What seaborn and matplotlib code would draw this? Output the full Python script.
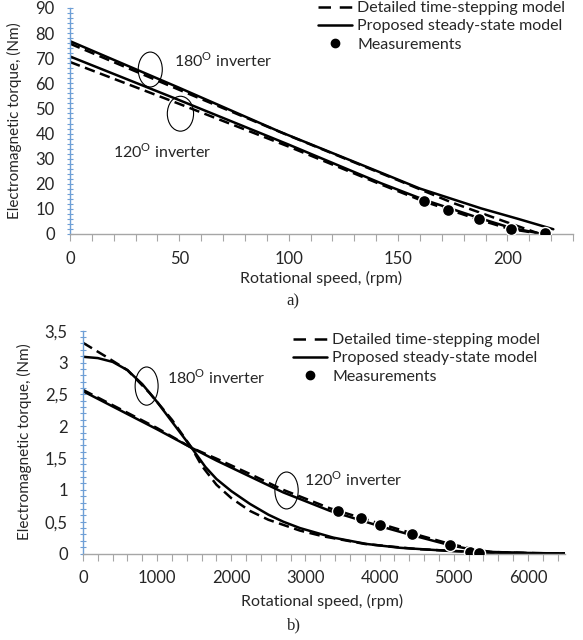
import numpy as np
import pandas as pd
import matplotlib
matplotlib.use("Agg")
import matplotlib.pyplot as plt
import seaborn as sns
from matplotlib.lines import Line2D
from matplotlib.patches import Ellipse
from matplotlib.ticker import MultipleLocator, FuncFormatter

# ---------------- data: a) low speed machine ----------------
a_180_solid_x = [0, 50, 96, 115, 140, 160, 188, 205, 221]
a_180_solid_y = [76.8, 58.2, 40.7, 34.0, 25.2, 18.1, 10.2, 6.0, 1.9]
a_180_dash_x = [0, 25, 50, 75, 100, 125, 150, 175, 200, 215]
a_180_dash_y = [75.8, 66.6, 57.4, 48.3, 39.2, 30.3, 21.4, 12.4, 4.6, 0.0]
a_120_solid_x = [0, 50, 100, 142, 162, 187, 201, 216]
a_120_solid_y = [70.7, 53.3, 35.6, 20.3, 13.6, 6.4, 2.6, 0.0]
a_120_dash_x = [0, 50, 100, 142, 162, 187, 201, 216]
a_120_dash_y = [68.5, 51.8, 34.8, 19.8, 12.9, 5.7, 2.0, 0.0]
a_meas_x = [161.8, 172.8, 186.8, 201.8, 217.1]
a_meas_y = [13.2, 9.5, 5.8, 2.0, 0.3]

# ---------------- data: b) high speed machine ----------------
b_180_solid_x = [0, 200, 400, 600, 800, 1000, 1200, 1465, 1650, 1800, 2000, 2250, 2500, 2700, 2925,
                 3373, 3823, 4272, 4946, 5500, 6000, 6500]
b_180_solid_y = [3.09, 3.07, 3.01, 2.88, 2.66, 2.38, 2.07, 1.66, 1.36, 1.17, 0.98, 0.78, 0.61, 0.50, 0.40,
                 0.25, 0.15, 0.09, 0.04, 0.015, 0.005, 0.0]
b_180_dash_x = [0, 300, 600, 900, 1200, 1465, 1600, 1800, 2000, 2250, 2500, 2925, 3239, 3800, 4500,
                5000, 5500, 6500]
b_180_dash_y = [3.31, 3.10, 2.88, 2.52, 2.10, 1.66, 1.38, 1.08, 0.87, 0.67, 0.53, 0.36, 0.27, 0.15, 0.07,
                0.04, 0.015, 0.0]
b_120_solid_x = [0, 500, 1000, 1465, 1800, 2250, 2700, 3330, 3750, 4000, 4430, 4950, 5300, 5500, 6000, 6500]
b_120_solid_y = [2.55, 2.25, 1.95, 1.66, 1.46, 1.21, 0.96, 0.67, 0.52, 0.43, 0.29, 0.13, 0.05, 0.025, 0.008, 0.0]
b_120_dash_x = [0, 500, 1000, 1465, 1800, 2250, 2700, 3330, 3750, 4000, 4430, 4950, 5300, 5500, 6000, 6500]
b_120_dash_y = [2.57, 2.27, 1.97, 1.66, 1.49, 1.25, 1.00, 0.71, 0.56, 0.47, 0.32, 0.15, 0.06, 0.025, 0.005, 0.0]
b_meas_x = [3441, 3747, 4003, 4430, 4955, 5225, 5337]
b_meas_y = [0.67, 0.55, 0.45, 0.30, 0.13, 0.02, 0.01]

legend_labels = ["Detailed time-stepping model", "Proposed steady-state model", "Measurements"]

sns.set_style("ticks")
plt.rcParams["font.family"] = ["Lato", "DejaVu Sans"]
plt.rcParams["mathtext.fontset"] = "custom"
plt.rcParams["mathtext.rm"] = "Lato"
plt.rcParams["font.size"] = 11

DASH = (0, (4.2, 2.2))
LW = 1.8
BLUE = "#6E9FD6"
GRAY = "#A6A6A6"

fig = plt.figure(figsize=(5.83, 6.4), dpi=100)
ax1 = fig.add_axes([70 / 583, 1 - 234 / 640, 503 / 583, 226 / 640])
ax2 = fig.add_axes([83 / 583, 1 - 553.5 / 640, 482 / 583, 222.8 / 640])


def draw_lines(ax, solids, dashes, mx, my):
    for x, y in solids:
        sns.lineplot(x=x, y=y, ax=ax, color="black", linewidth=LW, sort=False)
    for x, y in dashes:
        sns.lineplot(x=x, y=y, ax=ax, color="black", linewidth=LW, linestyle=DASH, sort=False)
    sns.scatterplot(x=mx, y=my, ax=ax, color="black", s=75, edgecolor="white", linewidth=1.0, zorder=5)


def style_axes(ax, xmax, ymax, xmaj, xmin, ymaj, ymin, fmt):
    ax.set_xlim(0, xmax)
    ax.set_ylim(0, ymax)
    sns.despine(ax=ax)
    ax.spines["left"].set_color(BLUE)
    ax.spines["bottom"].set_color(GRAY)
    ax.spines["left"].set_linewidth(1.0)
    ax.spines["bottom"].set_linewidth(1.0)
    ax.xaxis.set_major_locator(MultipleLocator(xmaj))
    ax.xaxis.set_minor_locator(MultipleLocator(xmin))
    ax.yaxis.set_major_locator(MultipleLocator(ymaj))
    ax.yaxis.set_minor_locator(MultipleLocator(ymin))
    ax.yaxis.set_major_formatter(FuncFormatter(fmt))
    ax.tick_params(axis="x", which="both", direction="out", length=5, width=0.8, color=GRAY, pad=7, labelsize=12)
    ax.tick_params(axis="y", which="both", direction="inout", length=4, width=0.8, color=BLUE, pad=9, labelsize=12)
    ax.set_xlabel("Rotational speed, (rpm)", fontsize=11.5)
    ax.set_ylabel("Electromagnetic torque, (Nm)", fontsize=11)


# ---------------- a) ----------------
draw_lines(ax1,
           [(a_180_solid_x, a_180_solid_y), (a_120_solid_x, a_120_solid_y)],
           [(a_180_dash_x, a_180_dash_y), (a_120_dash_x, a_120_dash_y)],
           a_meas_x, a_meas_y)
style_axes(ax1, 230, 90, 50, 10, 10, 2, lambda v, p: f"{v:g}")
ax1.xaxis.set_label_coords(0.5, -0.162)
ax1.yaxis.set_label_coords(-0.095, 0.5)
ax1.add_patch(Ellipse((36.7, 65.5), 11, 13.9, fill=False, color="black", lw=0.8))
ax1.add_patch(Ellipse((50.5, 47.9), 12, 13.9, fill=False, color="black", lw=0.8))
ax1.text(70, 69.2, "180$^{\\mathrm{O}}$ inverter", ha="center", va="center", fontsize=11.5)
ax1.text(42.4, 32.7, "120$^{\\mathrm{O}}$ inverter", ha="center", va="center", fontsize=11.5)

# ---------------- b) ----------------
draw_lines(ax2,
           [(b_180_solid_x, b_180_solid_y), (b_120_solid_x, b_120_solid_y)],
           [(b_180_dash_x, b_180_dash_y), (b_120_dash_x, b_120_dash_y)],
           b_meas_x, b_meas_y)
style_axes(ax2, 6500, 3.5, 1000, 200, 0.5, 0.1, lambda v, p: f"{v:g}".replace(".", ","))
ax2.xaxis.set_label_coords(0.496, -0.18)
ax2.yaxis.set_label_coords(-0.106, 0.5)
ax2.add_patch(Ellipse((858, 2.63), 310, 0.6, fill=False, color="black", lw=0.8))
ax2.add_patch(Ellipse((2745, 0.99), 314, 0.58, fill=False, color="black", lw=0.8))
ax2.text(1802, 2.77, "180$^{\\mathrm{O}}$ inverter", ha="center", va="center", fontsize=11.5)
ax2.text(3652, 1.17, "120$^{\\mathrm{O}}$ inverter", ha="center", va="center", fontsize=11.5)

# legends
handles = [
    Line2D([], [], color="black", lw=LW, linestyle=(0, (5, 3.5))),
    Line2D([], [], color="black", lw=LW),
    Line2D([], [], color="black", marker="o", linestyle="none", markersize=6),
]
for anchor in [(318 / 583, 1 - 1 / 640), (293 / 583, 1 - 333 / 640)]:
    fig.legend(handles, legend_labels, loc="upper left", bbox_to_anchor=anchor,
               bbox_transform=fig.transFigure, frameon=False, borderpad=0,
               borderaxespad=0, handlelength=2.1, handletextpad=0.35,
               labelspacing=0.25, fontsize=11.5)

fig.text(293 / 583, 1 - 301 / 640, "a)", ha="center", va="center", family="Liberation Serif", fontsize=12)
fig.text(294 / 583, 1 - 625 / 640, "b)", ha="center", va="center", family="Liberation Serif", fontsize=12)

fig.savefig("out.png", dpi=100)
